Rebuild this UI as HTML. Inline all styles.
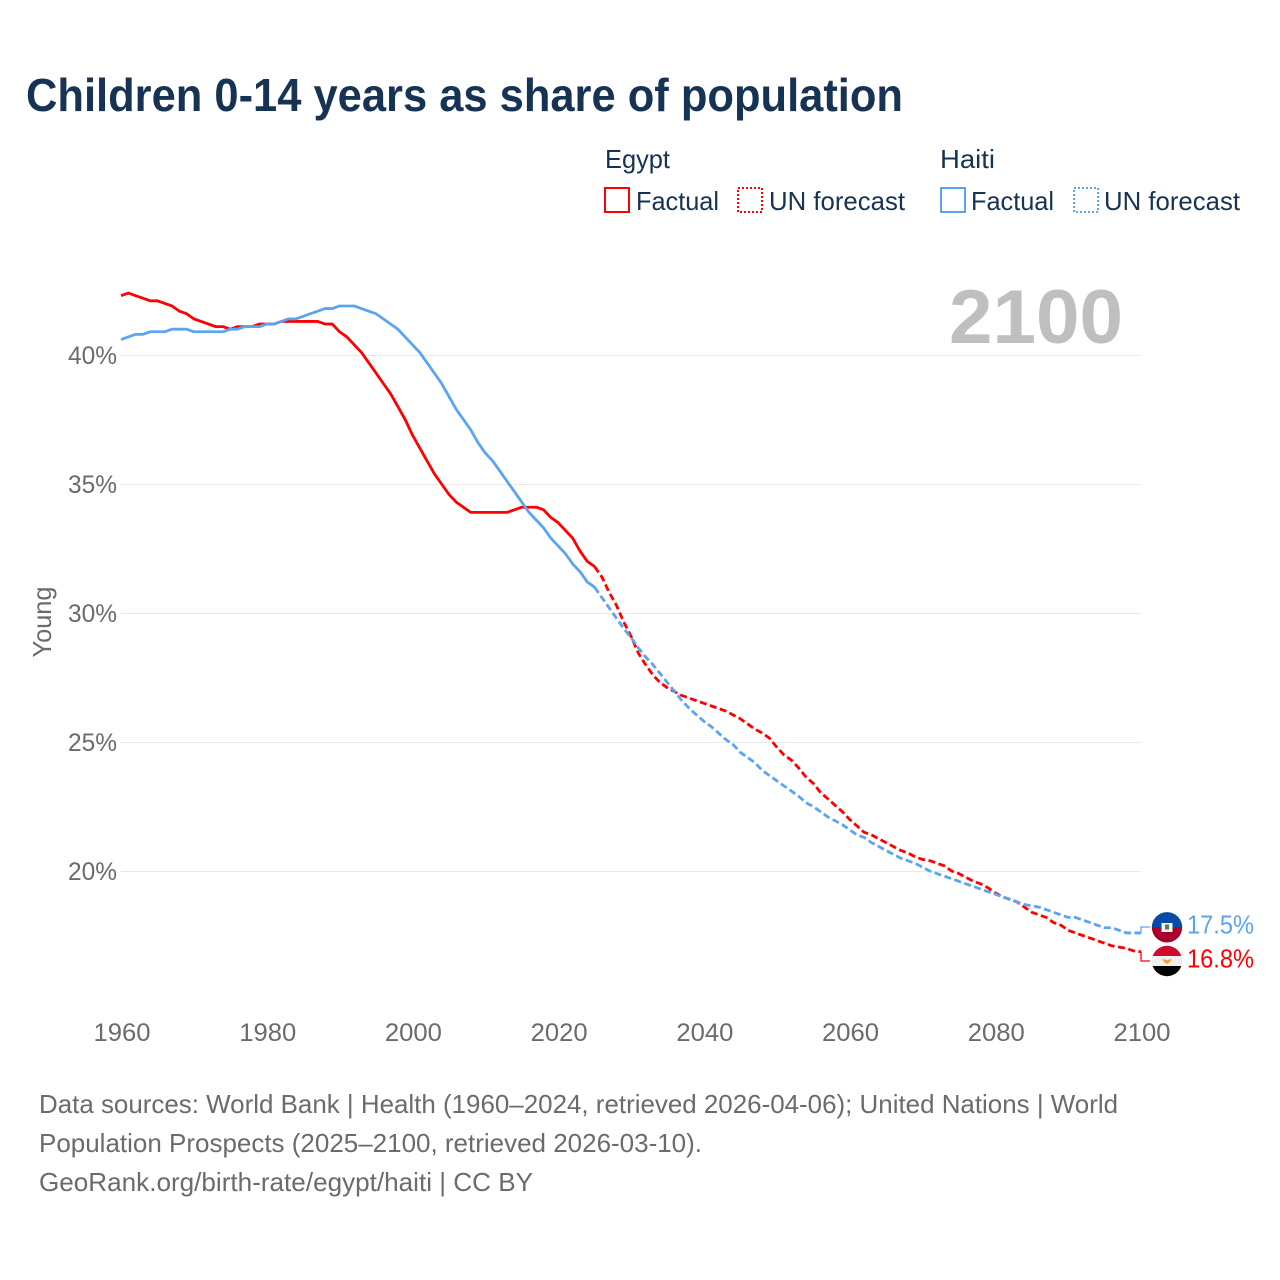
<!DOCTYPE html>
<html lang="en">
<head>
<meta charset="utf-8">
<title>Children 0-14 years as share of population</title>
<style>
html,body{margin:0;padding:0;background:#fff;}
svg{display:block;}
text{font-family:"Liberation Sans",sans-serif;}
</style>
</head>
<body>
<svg id="chart" xmlns="http://www.w3.org/2000/svg" width="1280" height="1280" viewBox="0 0 1280 1280">
  <defs>
    <clipPath id="clip-haiti"><circle cx="1167" cy="927.3" r="15.2"/></clipPath>
    <clipPath id="clip-egypt"><circle cx="1167" cy="961" r="15.2"/></clipPath>
  </defs>
  <rect width="1280" height="1280" fill="#fff"/>
  <text x="26" y="111" font-size="46" font-weight="700" fill="#173353" textLength="877" lengthAdjust="spacingAndGlyphs">Children 0-14 years as share of population</text>

  <g font-size="26" fill="#173353">
    <text x="605" y="168" textLength="65" lengthAdjust="spacingAndGlyphs">Egypt</text>
    <rect x="605" y="188" width="24" height="24" fill="none" stroke="#ff0000" stroke-width="2"/>
    <text x="636" y="210" textLength="83" lengthAdjust="spacingAndGlyphs">Factual</text>
    <rect x="738" y="188" width="24" height="24" fill="none" stroke="#ff0000" stroke-width="2" stroke-dasharray="2 2"/>
    <text x="769" y="210" textLength="136" lengthAdjust="spacingAndGlyphs">UN forecast</text>
    <text x="940" y="168" textLength="55" lengthAdjust="spacingAndGlyphs">Haiti</text>
    <rect x="941" y="188" width="24" height="24" fill="none" stroke="#5ba5f0" stroke-width="2"/>
    <text x="971" y="210" textLength="83" lengthAdjust="spacingAndGlyphs">Factual</text>
    <rect x="1074" y="188" width="24" height="24" fill="none" stroke="#5ba5f0" stroke-width="2" stroke-dasharray="2 2"/>
    <text x="1104" y="210" textLength="136" lengthAdjust="spacingAndGlyphs">UN forecast</text>
  </g>

  <g id="grid"></g>
  <text x="949" y="343" font-size="76" font-weight="700" fill="#bfbfbf" textLength="174" lengthAdjust="spacingAndGlyphs">2100</text>
  <g id="y-ticks"></g>
  <g id="x-ticks"></g>
  <text transform="translate(51,622) rotate(-90)" text-anchor="middle" font-size="26" fill="#6b6b6b" textLength="71" lengthAdjust="spacingAndGlyphs">Young</text>
  <g id="series"></g>

  <g clip-path="url(#clip-haiti)">
    <rect x="1150" y="911" width="34" height="16.5" fill="#0a4aa6"/>
    <rect x="1150" y="927.3" width="34" height="17" fill="#a8002a"/>
    <rect x="1161.5" y="923" width="11" height="9" fill="#f4f4f4"/>
    <rect x="1165" y="924.5" width="4" height="5" fill="#4f7f55"/>
  </g>
  <g clip-path="url(#clip-egypt)">
    <rect x="1150" y="945" width="34" height="11" fill="#cf0a2c"/>
    <rect x="1150" y="956" width="34" height="10" fill="#efefef"/>
    <rect x="1150" y="966" width="34" height="11" fill="#000"/>
    <path d="M1162 959 L1167 960 L1172 959 L1170 962 L1167 964 L1164 962 Z" fill="#f2a33c"/>
  </g>
  <text id="end-label-haiti" x="1187" y="933.5" font-size="26" fill="#5ba5f0" textLength="67" lengthAdjust="spacingAndGlyphs"></text>
  <text id="end-label-egypt" x="1187" y="967.5" font-size="26" fill="#ff0000" textLength="67" lengthAdjust="spacingAndGlyphs"></text>

  <g font-size="26" fill="#6b6b6b">
    <text x="39" y="1113" textLength="1079" lengthAdjust="spacingAndGlyphs">Data sources: World Bank | Health (1960–2024, retrieved 2026-04-06); United Nations | World</text>
    <text x="39" y="1152" textLength="663" lengthAdjust="spacingAndGlyphs">Population Prospects (2025–2100, retrieved 2026-03-10).</text>
    <text x="39" y="1191" textLength="494" lengthAdjust="spacingAndGlyphs">GeoRank.org/birth-rate/egypt/haiti | CC BY</text>
  </g>
</svg>
<script>
const xTickYears = [1960, 1980, 2000, 2020, 2040, 2060, 2080, 2100];
const yTickValues = [20, 25, 30, 35, 40];
const yTickLabels = ['20%', '25%', '30%', '35%', '40%'];
const factualStartYear = 1960;
const forecastStartYear = 2025;
const endLabelHaiti = '17.5%';
const endLabelEgypt = '16.8%';

const egyptFactual = [
  42.3,42.4,42.3,42.2,42.1,42.1,42.0,41.9,41.7,41.6,
  41.4,41.3,41.2,41.1,41.1,41.0,41.1,41.1,41.1,41.2,
  41.2,41.2,41.3,41.3,41.3,41.3,41.3,41.3,41.2,41.2,
  40.9,40.7,40.4,40.1,39.7,39.3,38.9,38.5,38.0,37.5,
  36.9,36.4,35.9,35.4,35.0,34.6,34.3,34.1,33.9,33.9,
  33.9,33.9,33.9,33.9,34.0,34.1,34.1,34.1,34.0,33.7,
  33.5,33.2,32.9,32.4,32.0,31.8
];
const egyptForecast = [
  31.8,31.4,30.8,30.3,29.65,29.1,28.45,28.0,27.6,27.3,
  27.1,26.95,26.8,26.7,26.6,26.5,26.4,26.3,26.2,26.05,
  25.9,25.7,25.5,25.35,25.15,24.8,24.5,24.3,24.0,23.65,
  23.4,23.05,22.8,22.55,22.3,22.0,21.75,21.5,21.4,21.25,
  21.1,20.95,20.8,20.7,20.55,20.45,20.4,20.3,20.2,20.0,
  19.9,19.75,19.6,19.5,19.35,19.15,19.0,18.9,18.8,18.6,
  18.4,18.3,18.2,18.0,17.9,17.7,17.6,17.5,17.4,17.3,
  17.2,17.1,17.05,17.0,16.9,16.87
];
const haitiFactual = [
  40.6,40.7,40.8,40.8,40.9,40.9,40.9,41.0,41.0,41.0,
  40.9,40.9,40.9,40.9,40.9,41.0,41.0,41.1,41.1,41.1,
  41.2,41.2,41.3,41.4,41.4,41.5,41.6,41.7,41.8,41.8,
  41.9,41.9,41.9,41.8,41.7,41.6,41.4,41.2,41.0,40.7,
  40.4,40.1,39.7,39.3,38.9,38.4,37.9,37.5,37.1,36.6,
  36.2,35.9,35.5,35.1,34.7,34.3,33.9,33.6,33.3,32.9,
  32.6,32.3,31.9,31.6,31.2,31.0
];
const haitiForecast = [
  31.0,30.6,30.2,29.8,29.4,29.05,28.65,28.3,28.0,27.65,
  27.3,26.95,26.6,26.3,26.05,25.8,25.6,25.35,25.1,24.9,
  24.6,24.4,24.2,23.9,23.7,23.5,23.3,23.1,22.9,22.65,
  22.5,22.3,22.1,21.95,21.8,21.6,21.4,21.3,21.1,20.95,
  20.8,20.65,20.5,20.4,20.3,20.15,20.0,19.9,19.8,19.7,
  19.6,19.5,19.4,19.3,19.2,19.1,19.0,18.9,18.8,18.7,
  18.65,18.6,18.5,18.4,18.3,18.2,18.2,18.1,18.0,17.9,
  17.8,17.8,17.7,17.6,17.6,17.6
];

const SVGNS = 'http://www.w3.org/2000/svg';
const RED = '#ff0000';
const BLUE = '#5ba5f0';
const xScale = function (year) { return 121 + (year - 1960) * (1020 / 140); };
const yScale = function (v) { return 355 + (40 - v) * 25.8; };

function make(tag, attrs, parent) {
  const el = document.createElementNS(SVGNS, tag);
  Object.keys(attrs).forEach(function (k) { el.setAttribute(k, attrs[k]); });
  parent.appendChild(el);
  return el;
}
function pathFrom(values, startYear) {
  return values.map(function (v, i) {
    return (i ? 'L' : 'M') + xScale(startYear + i).toFixed(2) + ' ' + yScale(v).toFixed(2);
  }).join(' ');
}

const gridG = document.getElementById('grid');
const yG = document.getElementById('y-ticks');
const xG = document.getElementById('x-ticks');
const seriesG = document.getElementById('series');

yTickValues.forEach(function (v, i) {
  const line = make('line', {x1: 121, x2: 1141, y1: yScale(v) + 0.5, y2: yScale(v) + 0.5, stroke: '#e8e8e8', 'stroke-width': 1}, gridG);
  
  
  const t = make('text', {x: 117, y: yScale(v) + 9, 'text-anchor': 'end', 'font-size': 25, fill: '#6b6b6b', textLength: 49, lengthAdjust: 'spacingAndGlyphs'}, yG);
  
  
  t.textContent = yTickLabels[i];
});
xTickYears.forEach(function (year) {
  const t = make('text', {x: xScale(year) + 1, y: 1041, 'text-anchor': 'middle', 'font-size': 25, fill: '#6b6b6b', textLength: 57, lengthAdjust: 'spacingAndGlyphs'}, xG);
  
  
  t.textContent = year;
});

function drawSeries(name, color, factual, forecast, labelY) {
  const solid = make('path', {d: pathFrom(factual, factualStartYear), fill: 'none', stroke: color, 'stroke-width': 2.8, 'stroke-linejoin': 'round'}, seriesG);
  
  
  const dashed = make('path', {d: pathFrom(forecast, forecastStartYear), fill: 'none', stroke: color, 'stroke-width': 2.8, 'stroke-dasharray': '7 3.5', 'stroke-linejoin': 'round'}, seriesG);
  
  
  const lastX = xScale(forecastStartYear + forecast.length - 1);
  const lastY = yScale(forecast[forecast.length - 1]);
  const conn = make('path', {d: 'M' + lastX + ' ' + lastY + ' V' + labelY + ' H1150', fill: 'none', stroke: color, 'stroke-width': 1.3}, seriesG);
  
  
}
drawSeries('egypt', RED, egyptFactual, egyptForecast, 961);
drawSeries('haiti', BLUE, haitiFactual, haitiForecast, 927);

document.getElementById('end-label-haiti').textContent = endLabelHaiti;
document.getElementById('end-label-egypt').textContent = endLabelEgypt;
</script>
</body>
</html>
